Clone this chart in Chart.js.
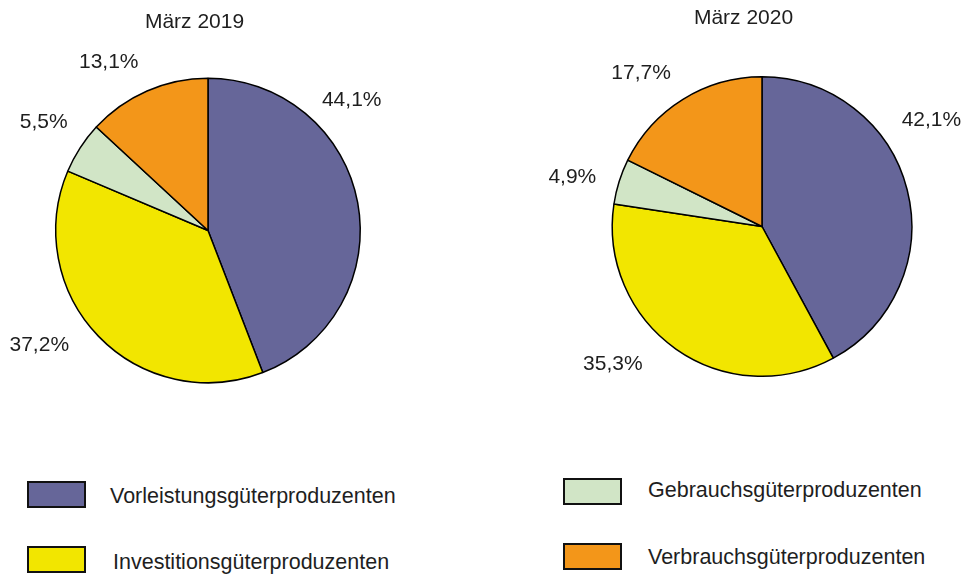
<!DOCTYPE html>
<html lang="de">
<head>
<meta charset="utf-8">
<script src="https://cdn.jsdelivr.net/npm/chart.js@4"></script>
<style>
    body { margin: 0; background: #fff; }
    #page { position: relative; width: 967px; height: 575px; overflow: hidden; background: #fff;
        font-family: 'Liberation Sans', Arial, sans-serif; color: #1e1e1e; }
    canvas { position: absolute; top: 0; }
    #chart2019 { left: 0; }
    #chart2020 { left: 480px; }
    .legend-box { position: absolute; width: 59px; height: 27px; box-sizing: border-box; border: 2px solid #111; }
    .legend-text { position: absolute; font-size: 21.5px; line-height: 24px; white-space: nowrap; }
</style>
</head>
<body>
<div id="page">
    <canvas id="chart2019" width="480" height="450"></canvas>
    <canvas id="chart2020" width="487" height="450"></canvas>
</div>
<script>
// data
const categories = [
    'Vorleistungsgüterproduzenten',
    'Investitionsgüterproduzenten',
    'Gebrauchsgüterproduzenten',
    'Verbrauchsgüterproduzenten'
]
const shares2019 = [44.1, 37.2, 5.5, 13.1]
const shares2020 = [42.1, 35.3, 4.9, 17.7]
const titles = ['März 2019', 'März 2020']

// styles
const colors = ['#666699', '#f2e600', '#d1e5c6', '#f39619']
const textColor = '#1e1e1e'
const font = "21px 'Liberation Sans', Arial, sans-serif"

// label placement (degrees clockwise from top, distance from centre)
const labelAngles2019 = [47.8, 235.8, 303.5, 329.4]
const labelDist2019 = [194, 204, 197, 195]
const labelAngles2020 = [57.9, 227.3, 284.6, 321.7]
const labelDist2020 = [200, 203, 196, 195]

// draws percentage labels and the title around the pie
const pieText = {
    id: 'pieText',
    afterDraw(chart, args, opts) {
        const arc = chart.getDatasetMeta(0).data[0]
        const cx = arc.x
        const cy = arc.y
        const r = arc.outerRadius
        const ctx = chart.ctx
        ctx.save()
        ctx.font = font
        ctx.fillStyle = textColor
        ctx.textAlign = 'center'
        ctx.textBaseline = 'middle'
        chart.data.datasets[0].data.forEach((v, i) => {
            const a = opts.angles[i] * Math.PI / 180
            const d = opts.dist[i]
            const text = v.toFixed(1).replace('.', ',') + '%'
            ctx.fillText(text, cx + d * Math.sin(a), cy - d * Math.cos(a))
        })
        // title sits above the top of the pie
        ctx.fillText(opts.title, cx + opts.titleDx, cy - r - opts.titleGap)
        ctx.restore()
    }
}

function makePie(id, values, title, padding, textOpts) {
    return new Chart(document.getElementById(id), {
        type: 'pie',
        data: {
            labels: categories,
            datasets: [{
                data: values,
                backgroundColor: colors,
                borderColor: '#000',
                borderWidth: 1.5,
                hoverOffset: 0
            }]
        },
        options: {
            responsive: false,
            animation: false,
            events: [],
            layout: { padding: padding },
            plugins: {
                legend: { display: false },
                tooltip: { enabled: false },
                title: { display: false },
                pieText: Object.assign({ title: title }, textOpts)
            }
        },
        plugins: [pieText]
    })
}

makePie('chart2019', shares2019, titles[0],
    { left: 55, top: 77.5, right: 119, bottom: 66.5 },
    { angles: labelAngles2019, dist: labelDist2019, titleDx: -13.5, titleGap: 56 })

makePie('chart2020', shares2020, titles[1],
    { left: 131.5, top: 76, right: 54.5, bottom: 73 },
    { angles: labelAngles2020, dist: labelDist2020, titleDx: -18.5, titleGap: 59 })

// legend built from the category and colour arrays
const page = document.getElementById('page')
const legendSpots = [
    { box: [27, 481], text: [110, 483.5] },
    { box: [27, 546], text: [113, 550] },
    { box: [563, 478], text: [648, 478] },
    { box: [563, 542.5], text: [648, 545] }
]
categories.forEach((name, i) => {
    const box = document.createElement('div')
    box.className = 'legend-box'
    box.style.left = legendSpots[i].box[0] + 'px'
    box.style.top = legendSpots[i].box[1] + 'px'
    box.style.background = colors[i]
    page.appendChild(box)

    const label = document.createElement('div')
    label.className = 'legend-text'
    label.style.left = legendSpots[i].text[0] + 'px'
    label.style.top = legendSpots[i].text[1] + 'px'
    label.textContent = name
    page.appendChild(label)
})
</script>
</body>
</html>
